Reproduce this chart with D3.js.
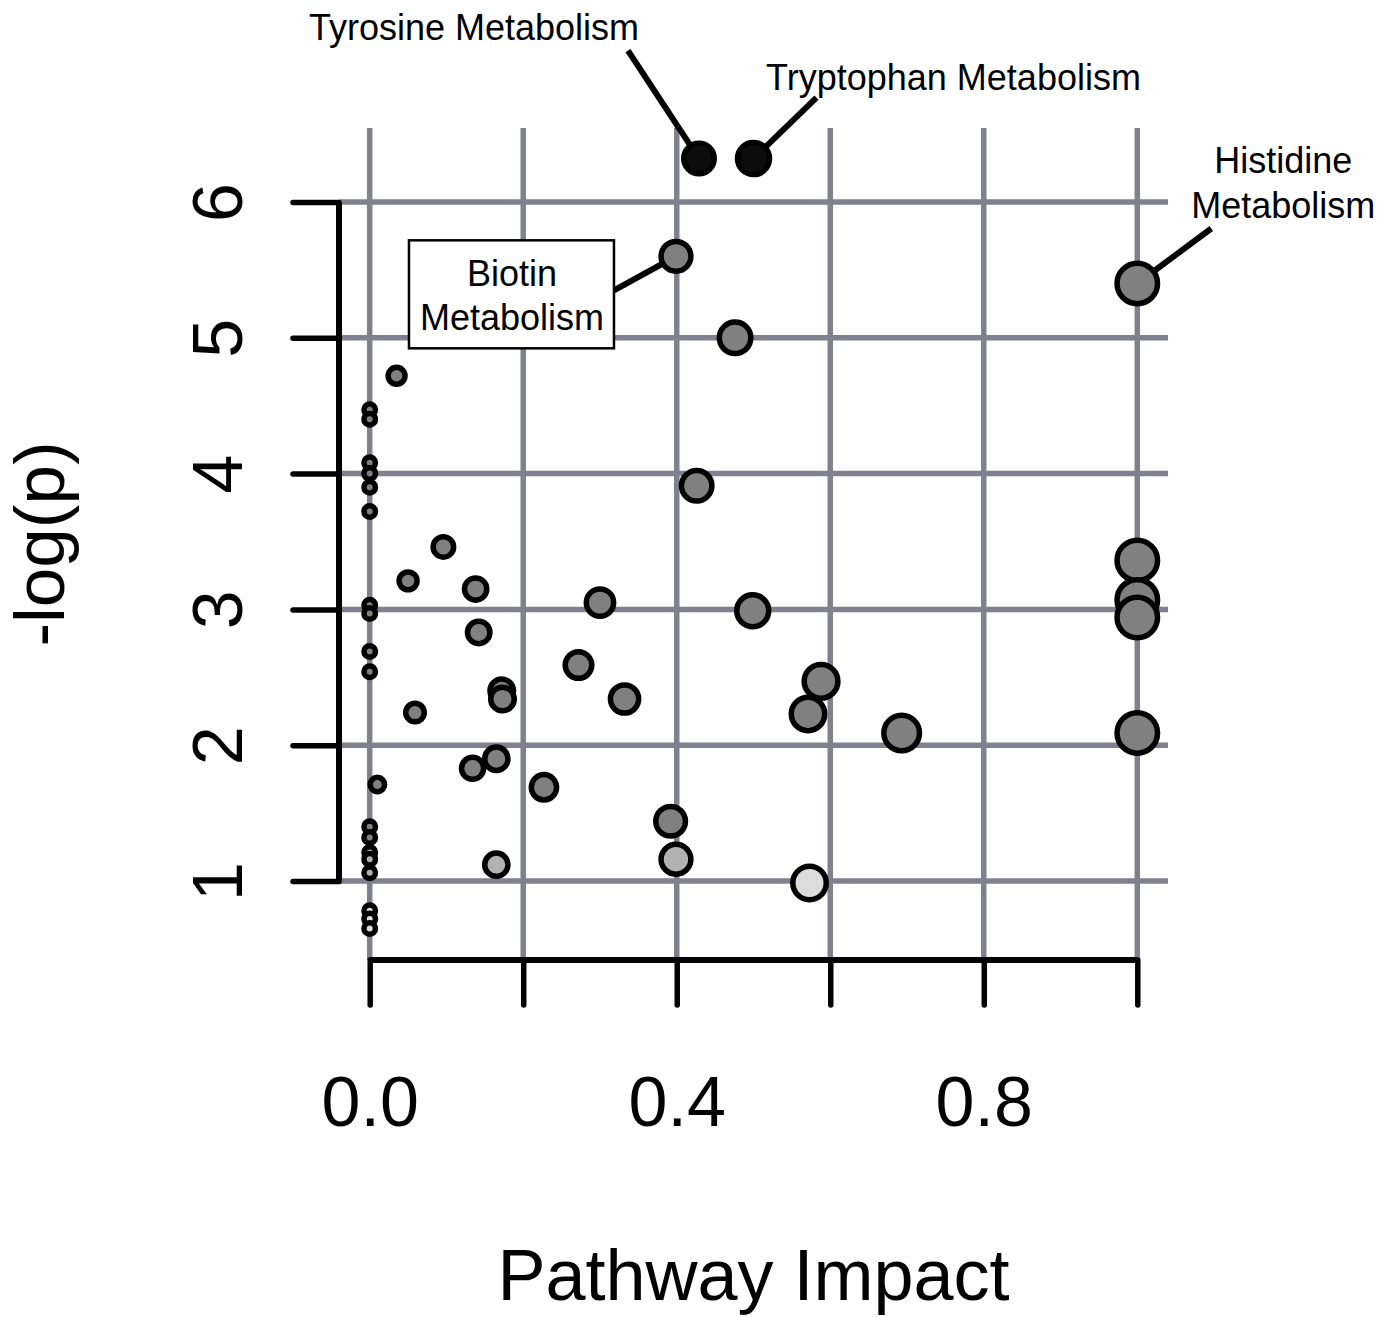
<!DOCTYPE html>
<html>
<head>
<meta charset="utf-8">
<script src="https://cdn.jsdelivr.net/npm/d3@7"></script>
<style>
  body { margin: 0; background: #fff; }
  svg { font-family: "Liberation Sans", Arial, sans-serif; }
</style>
</head>
<body>
<script>
// pathway impact (x) and -log(p) (y)
const impact = [0.429, 0.500, 0.399, 1.0, 0.476, 0.035,
  0, 0, 0, 0, 0, 0, 0, 0, 0, 0, 0, 0, 0, 0, 0, 0, 0, 0,
  0.059, 0.010, 0.096, 0.050, 0.138, 0.142, 0.172, 0.173, 0.134, 0.165, 0.165,
  0.300, 0.272, 0.332, 0.227, 0.392, 0.399, 0.499, 0.588, 0.571, 0.693, 0.573, 0.426,
  1.0, 1.0, 1.0, 1.0];
const logP = [6.32, 6.32, 5.60, 5.40, 5.00, 4.72,
  4.47, 4.40, 4.08, 4.00, 3.90, 3.72, 3.03, 2.97, 2.69, 2.54, 1.40, 1.32, 1.21, 1.16, 1.06, 0.78, 0.72, 0.65,
  2.24, 1.71, 3.46, 3.21, 3.15, 2.83, 2.40, 2.34, 1.83, 1.90, 1.12,
  3.05, 2.59, 2.34, 1.69, 1.44, 1.16, 2.99, 2.47, 2.23, 2.09, 0.985, 3.91,
  3.36, 3.07, 2.94, 2.09];
// the first four points carry a label
const labelNames = ['Tyrosine Metabolism', 'Tryptophan Metabolism', 'Biotin Metabolism', 'Histidine Metabolism'];
const xTicks = [0, 0.2, 0.4, 0.6, 0.8, 1.0];
const xTickLabels = ['0.0', '', '0.4', '', '0.8', ''];
const yTicks = [1, 2, 3, 4, 5, 6];

const points = impact.map((d, i) => ({ x: d, y: logP[i] }));

const W = 1390, H = 1317;
const svg = d3.select('body').append('svg')
  .attr('width', W)
  .attr('height', H);

const x = d3.scaleLinear().domain([-0.04, 1.04]).range([339, 1168]);
const y = d3.scaleLinear().domain([0.418, 6.545]).range([960, 128]);
const r = d3.scaleSqrt().domain([0, 1]).range([8.5, 23]);
const fill = d3.scaleThreshold().domain([1.05, 1.3, 6]).range(['#dcdcdc', '#b2b2b2', '#808080', '#0c0c0c']);

const gridColor = '#80808e';
const [x0, x1] = x.range();
const [y0, y1] = y.range();

// grid
svg.append('g').selectAll('line').data(xTicks).join('line')
  .attr('x1', d => x(d)).attr('x2', d => x(d))
  .attr('y1', y1).attr('y2', y0)
  .attr('stroke', gridColor).attr('stroke-width', 5.5);
svg.append('g').selectAll('line').data(yTicks).join('line')
  .attr('x1', x0).attr('x2', x1)
  .attr('y1', d => y(d)).attr('y2', d => y(d))
  .attr('stroke', gridColor).attr('stroke-width', 5.5);

// x axis
const xAxis = svg.append('g')
  .attr('transform', `translate(0,${y0})`)
  .call(d3.axisBottom(x).tickValues(xTicks).tickSize(45).tickSizeOuter(0)
    .tickFormat((d, i) => xTickLabels[i]));
xAxis.select('.domain').remove();
xAxis.append('line')
  .attr('x1', x(xTicks[0])).attr('x2', x(xTicks[xTicks.length - 1]))
  .attr('stroke', '#000').attr('stroke-width', 6);
xAxis.selectAll('.tick line').attr('stroke', '#000').attr('stroke-width', 5.5).attr('stroke-linecap', 'round');
xAxis.selectAll('.tick text')
  .attr('y', 166).attr('dy', 0)
  .attr('font-size', 70).attr('font-family', '"Liberation Sans", Arial, sans-serif')
  .attr('fill', '#000');

// y axis
const yAxis = svg.append('g')
  .attr('transform', `translate(${x0},0)`)
  .call(d3.axisLeft(y).tickValues(yTicks).tickSize(46).tickSizeOuter(0).tickFormat(d3.format('d')));
yAxis.select('.domain').remove();
yAxis.append('line')
  .attr('y1', y(yTicks[0])).attr('y2', y(yTicks[yTicks.length - 1]))
  .attr('stroke', '#000').attr('stroke-width', 6);
yAxis.selectAll('.tick line').attr('stroke', '#000').attr('stroke-width', 5.5).attr('stroke-linecap', 'round');
yAxis.selectAll('.tick text')
  .attr('transform', 'rotate(-90)')
  .attr('x', 0).attr('y', -97).attr('dy', 0)
  .attr('text-anchor', 'middle')
  .attr('font-size', 70).attr('font-family', '"Liberation Sans", Arial, sans-serif')
  .attr('fill', '#000');

// axis titles
svg.append('text')
  .attr('x', (x(0) + x(1)) / 2).attr('y', 1300)
  .attr('text-anchor', 'middle').attr('font-size', 72)
  .text('Pathway Impact');
svg.append('text')
  .attr('transform', `translate(64,${(y0 + y1) / 2}) rotate(-90)`)
  .attr('text-anchor', 'middle').attr('font-size', 71)
  .text('-log(p)');

// annotations: offsets relative to the labelled point
const notes = [
  { i: 0, lines: [labelNames[0]], tx: -225, ty: [-119], lx: -71, ly: -108 },
  { i: 1, lines: [labelNames[1]], tx: 200, ty: [-69], lx: 63, ly: -61 },
  { i: 2, lines: ['Biotin', 'Metabolism'], tx: -164, ty: [30, 74], lx: -62, ly: 34, box: [-267, -16, 205, 108] },
  { i: 3, lines: ['Histidine', 'Metabolism'], tx: 146, ty: [-110, -65], lx: 74, ly: -55 }
];

const noteG = svg.append('g');
notes.forEach(n => {
  const px = x(points[n.i].x), py = y(points[n.i].y);
  noteG.append('line')
    .attr('x1', px + n.lx).attr('y1', py + n.ly)
    .attr('x2', px).attr('y2', py)
    .attr('stroke', '#000').attr('stroke-width', 6);
  if (n.box) {
    noteG.append('rect')
      .attr('x', px + n.box[0]).attr('y', py + n.box[1])
      .attr('width', n.box[2]).attr('height', n.box[3])
      .attr('fill', '#fff').attr('stroke', '#000').attr('stroke-width', 2.5);
  }
  n.lines.forEach((t, k) => {
    noteG.append('text')
      .attr('x', px + n.tx).attr('y', py + n.ty[k])
      .attr('text-anchor', 'middle').attr('font-size', 36)
      .text(t);
  });
});

// points
svg.append('g').selectAll('circle').data(points).join('circle')
  .attr('cx', d => x(d.x))
  .attr('cy', d => y(d.y))
  .attr('r', d => r(d.x) - 2.75)
  .attr('fill', d => fill(d.y))
  .attr('stroke', '#000')
  .attr('stroke-width', 5.5);
</script>
</body>
</html>
